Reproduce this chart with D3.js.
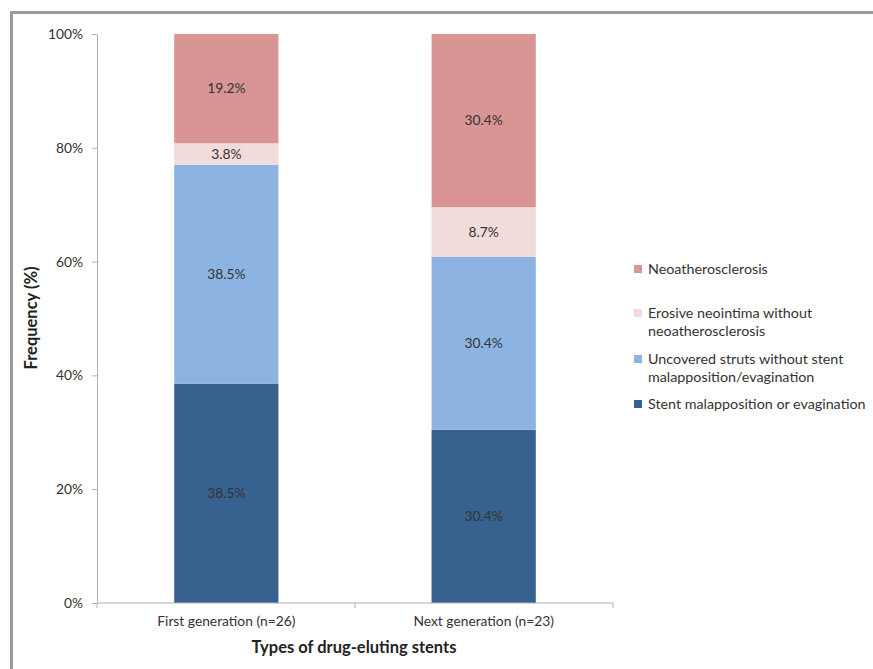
<!DOCTYPE html>
<html>
<head>
<meta charset="utf-8">
<script src="https://cdn.jsdelivr.net/npm/d3@7"></script>
<style>
  body { margin: 0; background: #fff; }
  svg { display: block; font-family: Lato, "Open Sans", sans-serif; }
</style>
</head>
<body>
<svg id="chart" width="873" height="669"></svg>
<script>
// data
let categories = ["First generation (n=26)", "Next generation (n=23)"];
let seriesNames = ["Stent malapposition or evagination",
                   "Uncovered struts without stent malapposition/evagination",
                   "Erosive neointima without neoatherosclerosis",
                   "Neoatherosclerosis"];
let stentMalapposition = [38.5, 30.4];
let uncoveredStruts = [38.5, 30.4];
let erosiveNeointima = [3.8, 8.7];
let neoatherosclerosis = [19.2, 30.4];
let yTicks = [0, 20, 40, 60, 80, 100];

let colors = ["#37618f", "#8db3e2", "#f2dbdb", "#d99594"];
let legendLines = [
    ["Stent malapposition or evagination"],
    ["Uncovered struts without stent", "malapposition/evagination"],
    ["Erosive neointima without", "neoatherosclerosis"],
    ["Neoatherosclerosis"]
];

let margin = {top: 34, left: 97, bottom: 66, right: 260};
let svg = d3.select("#chart");
let plotW = 613 - margin.left;
let plotH = 603 - margin.top;
let labelSize = "13.8px";

// frame border (top and left)
svg.append("path")
    .attr("d", "M11.5,669 V12.5 H873")
    .attr("fill", "none")
    .attr("stroke", "#9a9a9a")
    .attr("stroke-width", 3);

let g = svg.append("g").attr("transform", `translate(${margin.left},${margin.top})`);

let table = categories.map((c, i) => ({
    cat: c,
    s0: stentMalapposition[i],
    s1: uncoveredStruts[i],
    s2: erosiveNeointima[i],
    s3: neoatherosclerosis[i]
}));

let keys = ["s0", "s1", "s2", "s3"];
let stacked = d3.stack().keys(keys).offset(d3.stackOffsetExpand)(table);

let x = d3.scaleBand().domain(categories).range([0, plotW]).paddingInner(0.595).paddingOuter(0.3);
let y = d3.scaleLinear().domain([0, 1]).range([plotH, 0]);

// bars
let layers = g.selectAll("g.layer")
    .data(stacked).enter()
    .append("g")
    .attr("class", "layer")
    .attr("fill", (d, i) => colors[i]);

layers.selectAll("rect")
    .data(d => d)
    .enter().append("rect")
    .attr("x", d => x(d.data.cat))
    .attr("width", x.bandwidth())
    .attr("y", d => y(d[1]))
    .attr("height", d => y(d[0]) - y(d[1]));

layers.each(function (layer) {
    let k = layer.key;
    d3.select(this).selectAll("text")
        .data(layer)
        .enter().append("text")
        .attr("x", d => x(d.data.cat) + x.bandwidth() / 2)
        .attr("y", d => (y(d[0]) + y(d[1])) / 2)
        .attr("dy", "0.35em")
        .attr("text-anchor", "middle")
        .attr("fill", "#333")
        .style("font-size", labelSize)
        .text(d => d.data[k].toFixed(1) + "%");
});

// y axis
let yAxis = g.append("g")
    .call(d3.axisLeft(y).tickValues(yTicks.map(v => v / 100))
        .tickFormat(d => Math.round(d * 100) + "%")
        .tickSize(5).tickSizeOuter(0).tickPadding(9));
yAxis.select(".domain").attr("stroke", "#b0b0b0");
yAxis.selectAll(".tick line").attr("stroke", "#b0b0b0");
yAxis.selectAll(".tick text").attr("fill", "#333").style("font-size", labelSize).style("font-family", "Lato, sans-serif");

// x axis with ticks at band edges
let xAxis = g.append("g")
    .attr("transform", `translate(0,${plotH})`);
xAxis.append("line")
    .attr("x1", 0).attr("x2", plotW)
    .attr("stroke", "#b0b0b0");
xAxis.selectAll("line.tk")
    .data([0, plotW / 2, plotW])
    .enter().append("line")
    .attr("class", "tk")
    .attr("x1", d => d).attr("x2", d => d)
    .attr("y1", 0).attr("y2", 5)
    .attr("stroke", "#b0b0b0");
xAxis.selectAll("text")
    .data(categories)
    .enter().append("text")
    .attr("x", d => x(d) + x.bandwidth() / 2)
    .attr("y", 23)
    .attr("text-anchor", "middle")
    .attr("fill", "#333")
    .style("font-size", labelSize)
    .text(d => d);

// axis titles
g.append("text")
    .attr("x", plotW / 2 - 1)
    .attr("y", plotH + 50)
    .attr("text-anchor", "middle")
    .attr("fill", "#222")
    .style("font-size", "16.5px")
    .style("font-weight", "bold")
    .text("Types of drug-eluting stents");

g.append("text")
    .attr("transform", `translate(${37 - margin.left},${318 - margin.top}) rotate(-90)`)
    .attr("text-anchor", "middle")
    .attr("fill", "#222")
    .style("font-size", "16.5px")
    .style("font-weight", "bold")
    .text("Frequency (%)");

// legend (top to bottom: reverse of stack order)
let legendY = [404, 359, 313, 269];
let legend = svg.append("g").attr("class", "legend");
seriesNames.forEach((name, i) => {
    let lg = legend.append("g").attr("transform", `translate(634,${legendY[i]})`);
    lg.append("rect")
        .attr("x", 0).attr("y", -4)
        .attr("width", 8).attr("height", 8)
        .attr("fill", colors[i]);
    legendLines[i].forEach((line, j) => {
        lg.append("text")
            .attr("x", 14)
            .attr("y", j * 18)
            .attr("dy", "0.35em")
            .attr("fill", "#333")
            .style("font-size", "14.3px")
            .text(line);
    });
});
</script>
</body>
</html>
